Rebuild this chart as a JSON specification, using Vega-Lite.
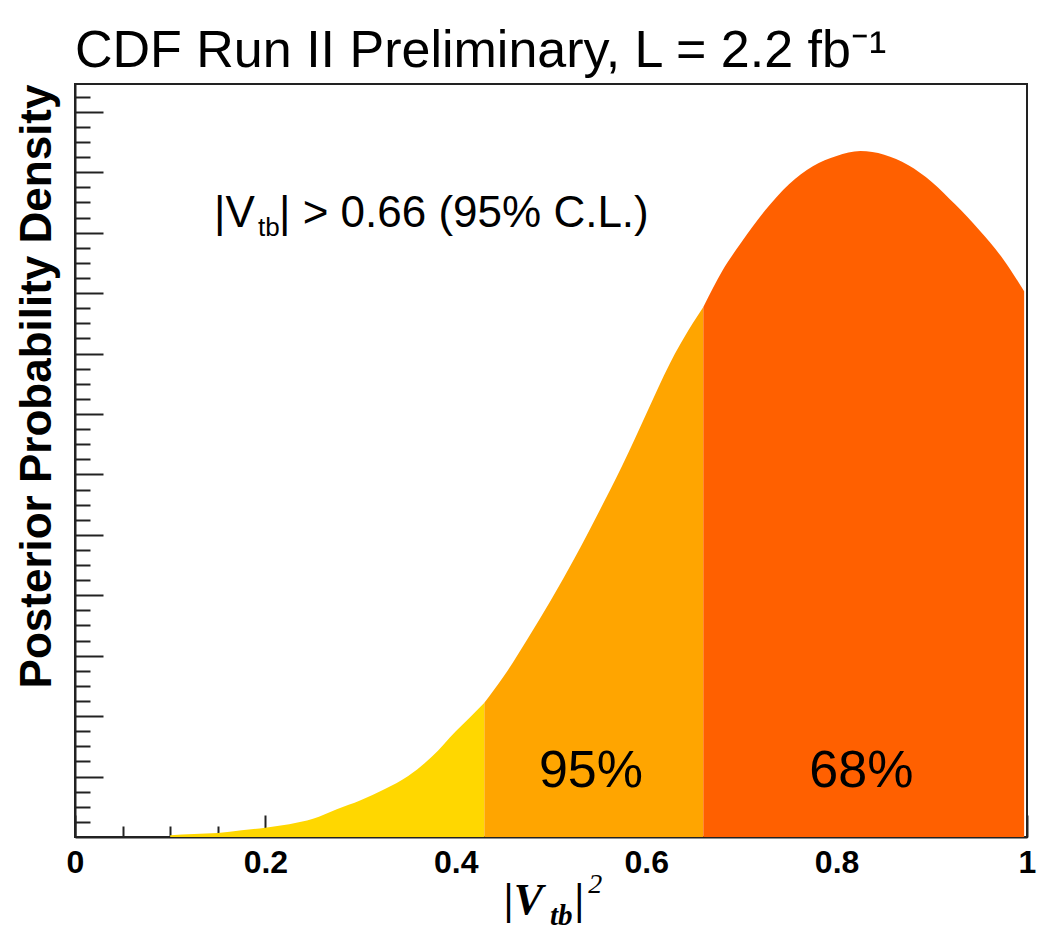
{
  "$schema": "https://vega.github.io/schema/vega-lite/v6.json",
  "width": 952,
  "height": 753,
  "autosize": {"type": "none"},
  "padding": {"left": 75, "top": 84, "right": 15, "bottom": 93},
  "background": "white",
  "config": {
    "view": {"stroke": "#222", "strokeWidth": 2},
    "font": "Liberation Sans"
  },
  "title": {
    "text": "CDF Run II Preliminary, L = 2.2 fb⁻¹",
    "anchor": "start",
    "frame": "group",
    "font": "Liberation Sans",
    "fontSize": 52,
    "fontWeight": "normal",
    "color": "black",
    "baseline": "alphabetic",
    "offset": -35
  },
  "layer": [
    {
      "data": {
        "values": [
          {"x": 0.1, "density": 0.03, "region": "rest"},
          {"x": 0.125, "density": 0.05, "region": "rest"},
          {"x": 0.15, "density": 0.066, "region": "rest"},
          {"x": 0.175, "density": 0.11, "region": "rest"},
          {"x": 0.2, "density": 0.155, "region": "rest"},
          {"x": 0.225, "density": 0.21, "region": "rest"},
          {"x": 0.25, "density": 0.3, "region": "rest"},
          {"x": 0.275, "density": 0.46, "region": "rest"},
          {"x": 0.3, "density": 0.61, "region": "rest"},
          {"x": 0.325, "density": 0.79, "region": "rest"},
          {"x": 0.35, "density": 1.01, "region": "rest"},
          {"x": 0.375, "density": 1.33, "region": "rest"},
          {"x": 0.4, "density": 1.75, "region": "rest"},
          {"x": 0.415, "density": 1.98, "region": "rest"},
          {"x": 0.43, "density": 2.22, "region": "rest"},
          {"x": 0.43, "density": 2.22, "region": "95%"},
          {"x": 0.45, "density": 2.65, "region": "95%"},
          {"x": 0.475, "density": 3.27, "region": "95%"},
          {"x": 0.5, "density": 3.92, "region": "95%"},
          {"x": 0.525, "density": 4.62, "region": "95%"},
          {"x": 0.55, "density": 5.37, "region": "95%"},
          {"x": 0.575, "density": 6.15, "region": "95%"},
          {"x": 0.6, "density": 7.0, "region": "95%"},
          {"x": 0.625, "density": 7.84, "region": "95%"},
          {"x": 0.645, "density": 8.4, "region": "95%"},
          {"x": 0.66, "density": 8.77, "region": "95%"},
          {"x": 0.66, "density": 8.77, "region": "68%"},
          {"x": 0.68, "density": 9.37, "region": "68%"},
          {"x": 0.7, "density": 9.84, "region": "68%"},
          {"x": 0.725, "density": 10.37, "region": "68%"},
          {"x": 0.75, "density": 10.8, "region": "68%"},
          {"x": 0.775, "density": 11.1, "region": "68%"},
          {"x": 0.8, "density": 11.27, "region": "68%"},
          {"x": 0.825, "density": 11.35, "region": "68%"},
          {"x": 0.85, "density": 11.29, "region": "68%"},
          {"x": 0.875, "density": 11.12, "region": "68%"},
          {"x": 0.9, "density": 10.84, "region": "68%"},
          {"x": 0.925, "density": 10.46, "region": "68%"},
          {"x": 0.95, "density": 10.04, "region": "68%"},
          {"x": 0.975, "density": 9.56, "region": "68%"},
          {"x": 0.997, "density": 9.03, "region": "68%"}
        ]
      },
      "mark": {"type": "area", "interpolate": "monotone"},
      "encoding": {
        "x": {
          "field": "x",
          "type": "quantitative",
          "scale": {"domain": [0, 1], "nice": false, "zero": false},
          "axis": {
            "orient": "bottom",
            "values": [0, 0.2, 0.4, 0.6, 0.8, 1],
            "format": ".1~f",
            "tickSize": -22,
            "tickWidth": 2,
            "tickColor": "#222",
            "domainColor": "#222",
            "domainWidth": 2,
            "grid": false,
            "labelFont": "Liberation Sans",
            "labelFontSize": 32,
            "labelFontWeight": "bold",
            "labelColor": "black",
            "labelPadding": 32,
            "labelFlush": false,
            "labelOverlap": false,
            "labelBound": false,
            "title": null
          }
        },
        "y": {
          "field": "density",
          "type": "quantitative",
          "stack": null,
          "scale": {"domain": [0, 12.46], "nice": false},
          "axis": {
            "orient": "left",
            "values": [1, 2, 3, 4, 5, 6, 7, 8, 9, 10, 11, 12],
            "labels": false,
            "tickSize": -28,
            "tickWidth": 2,
            "tickColor": "#222",
            "domainColor": "#222",
            "domainWidth": 2,
            "grid": false,
            "title": "Posterior Probability Density",
            "titleFont": "Liberation Sans",
            "titleFontSize": 44,
            "titleFontWeight": "bold",
            "titleColor": "black",
            "titleAnchor": "end",
            "titlePadding": 15
          }
        },
        "color": {
          "field": "region",
          "type": "nominal",
          "scale": {"domain": ["rest", "95%", "68%"], "range": ["#FFD700", "#FFA500", "#FF6000"]},
          "legend": null
        }
      }
    },
    {
      "data": {"values": [{"x": 0.5, "y": 1}]},
      "mark": {"type": "point", "opacity": 0},
      "encoding": {
        "x": {
          "field": "x",
          "type": "quantitative",
          "axis": {
            "orient": "bottom",
            "values": [0.05, 0.1, 0.15, 0.25, 0.3, 0.35, 0.45, 0.5, 0.55, 0.65, 0.7, 0.75, 0.85, 0.9, 0.95],
            "tickSize": -11,
            "tickWidth": 2,
            "tickColor": "#222",
            "domain": false,
            "labels": false,
            "grid": false,
            "title": null
          }
        },
        "y": {
          "field": "y",
          "type": "quantitative",
          "axis": {
            "orient": "left",
            "values": [0.25, 0.5, 0.75, 1.25, 1.5, 1.75, 2.25, 2.5, 2.75, 3.25, 3.5, 3.75, 4.25, 4.5, 4.75, 5.25, 5.5, 5.75, 6.25, 6.5, 6.75, 7.25, 7.5, 7.75, 8.25, 8.5, 8.75, 9.25, 9.5, 9.75, 10.25, 10.5, 10.75, 11.25, 11.5, 11.75, 12.25],
            "tickSize": -15,
            "tickWidth": 2,
            "tickColor": "#222",
            "domain": false,
            "labels": false,
            "grid": false,
            "title": null
          }
        }
      }
    },
    {
      "data": {
        "values": [
          {"x": 0.146, "y": 10.09, "label": "|V"},
          {"x": 0.2143, "y": 10.09, "label": "| > 0.66 (95% C.L.)"}
        ]
      },
      "mark": {"type": "text", "align": "left", "baseline": "alphabetic", "font": "Liberation Sans", "fontSize": 44, "color": "black"},
      "encoding": {
        "x": {"field": "x", "type": "quantitative", "axis": null},
        "y": {"field": "y", "type": "quantitative", "axis": null},
        "text": {"field": "label"}
      }
    },
    {
      "data": {"values": [{"x": 0.1922, "y": 9.94, "label": "tb"}]},
      "mark": {"type": "text", "align": "left", "baseline": "alphabetic", "font": "Liberation Sans", "fontSize": 26, "color": "black"},
      "encoding": {
        "x": {"field": "x", "type": "quantitative", "axis": null},
        "y": {"field": "y", "type": "quantitative", "axis": null},
        "text": {"field": "label"}
      }
    },
    {
      "data": {
        "values": [
          {"x": 0.542, "y": 0.827, "label": "95%"},
          {"x": 0.826, "y": 0.827, "label": "68%"}
        ]
      },
      "mark": {"type": "text", "align": "center", "baseline": "alphabetic", "font": "Liberation Sans", "fontSize": 52, "color": "black"},
      "encoding": {
        "x": {"field": "x", "type": "quantitative", "axis": null},
        "y": {"field": "y", "type": "quantitative", "axis": null},
        "text": {"field": "label"}
      }
    },
    {
      "data": {
        "values": [
          {"x": 0.4506, "y": -1.27, "label": "|V"},
          {"x": 0.525, "y": -1.27, "label": "|"}
        ]
      },
      "mark": {"type": "text", "align": "left", "baseline": "alphabetic", "font": "Liberation Serif", "fontStyle": "italic", "fontWeight": "bold", "fontSize": 44, "color": "black"},
      "encoding": {
        "x": {"field": "x", "type": "quantitative", "axis": null},
        "y": {"field": "y", "type": "quantitative", "axis": null},
        "text": {"field": "label"}
      }
    },
    {
      "data": {"values": [{"x": 0.499, "y": -1.45, "label": "tb"}]},
      "mark": {"type": "text", "align": "left", "baseline": "alphabetic", "font": "Liberation Serif", "fontStyle": "italic", "fontWeight": "bold", "fontSize": 29, "color": "black"},
      "encoding": {
        "x": {"field": "x", "type": "quantitative", "axis": null},
        "y": {"field": "y", "type": "quantitative", "axis": null},
        "text": {"field": "label"}
      }
    },
    {
      "data": {"values": [{"x": 0.539, "y": -0.93, "label": "2"}]},
      "mark": {"type": "text", "align": "left", "baseline": "alphabetic", "font": "Liberation Serif", "fontStyle": "italic", "fontWeight": "normal", "fontSize": 28, "color": "black"},
      "encoding": {
        "x": {"field": "x", "type": "quantitative", "axis": null},
        "y": {"field": "y", "type": "quantitative", "axis": null},
        "text": {"field": "label"}
      }
    }
  ],
  "resolve": {"axis": {"x": "independent", "y": "independent"}}
}
